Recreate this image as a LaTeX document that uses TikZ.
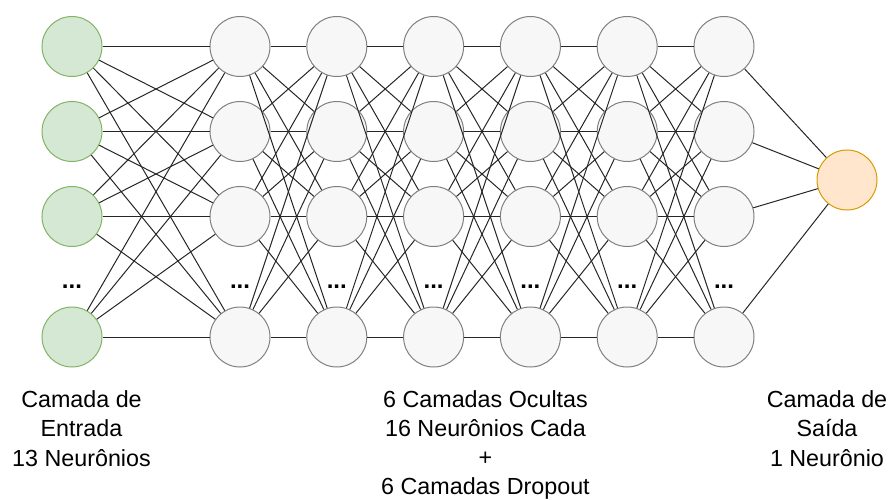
\documentclass[tikz,border=0pt]{standalone}
\usepackage{fontspec}
\setmainfont{Liberation Sans}
\definecolor{ingreen}{HTML}{D5E8D4}
\definecolor{instroke}{HTML}{82B366}
\definecolor{hidfill}{HTML}{F7F7F7}
\definecolor{hidstroke}{HTML}{808080}
\definecolor{outfill}{HTML}{FFE6CC}
\definecolor{outstroke}{HTML}{D79B00}
\begin{document}
\begin{tikzpicture}[x=1pt,y=-1pt,
  neuron/.style={circle,minimum size=60pt,inner sep=0pt,line width=1pt},
  inneuron/.style={neuron,draw=instroke,fill=ingreen},
  hidneuron/.style={neuron,draw=hidstroke,fill=hidfill},
  outneuron/.style={neuron,draw=outstroke,fill=outfill},
  conn/.style={draw=black!85,line width=1pt},
  dotsnode/.style={font=\fontsize{24}{24}\selectfont\bfseries,inner sep=0pt},
  lbl/.style={font=\fontsize{23.3}{29.3}\selectfont,align=center,inner sep=0pt}]
\useasboundingbox (0,0) rectangle (892,500);
% input layer
\foreach \r/\y in {1/46.5,2/131.5,3/216.5,4/337}{
  \node[inneuron] (in-\r) at (72,\y) {};
}
\node[dotsnode] (indots) at (72,287) {...};
% hidden layers
\foreach \c in {1,...,6}{
  \pgfmathsetmacro{\xx}{240+96.8*(\c-1)}
  \foreach \r/\y in {1/46.5,2/131.5,3/216.5,4/337}{
    \node[hidneuron] (h\c-\r) at (\xx,\y) {};
  }
  \node[dotsnode] (hdots\c) at (\xx,287) {...};
}
% output
\node[outneuron] (out) at (847,180) {};
% connections
\foreach \i in {1,...,4}{
  \foreach \j in {1,...,4}{
    \draw[conn] (in-\i) -- (h1-\j);
  }
  \draw[conn] (h6-\i) -- (out);
}
\foreach \c in {1,...,5}{
  \pgfmathtruncatemacro{\nc}{\c+1}
  \foreach \i in {1,...,4}{
    \foreach \j in {1,...,4}{
      \draw[conn] (h\c-\i) -- (h\nc-\j);
    }
  }
}
% labels
\node[lbl] (inlabel) at (81.5,428.5) {Camada de\\Entrada\\13 Neurônios};
\node[lbl] (hidlabel) at (485.5,445) {6 Camadas Ocultas\\16 Neurônios Cada\\+\\6 Camadas Dropout};
\node[lbl] (outlabel) at (827,428.5) {Camada de\\Saída\\1 Neurônio};
\end{tikzpicture}
\end{document}
